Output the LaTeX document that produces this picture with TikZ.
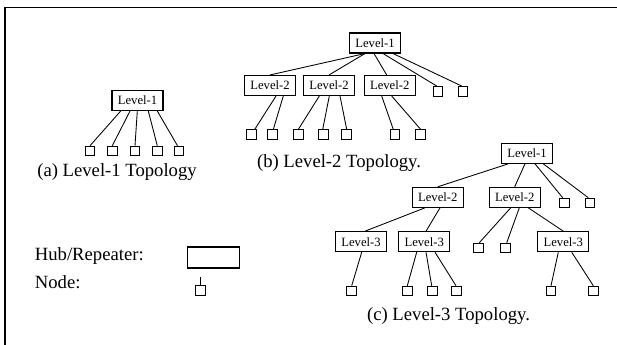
\documentclass[tikz,border=0pt]{standalone}
\usepackage{fontspec}
\setmainfont{Liberation Serif}
\usetikzlibrary{calc}
\tikzset{
  hub/.style={draw, line width=0.8pt, minimum width=38.25pt, minimum height=15pt, inner sep=0pt, font=\fontsize{9.5}{11}\selectfont},
  leaf/.style={draw, line width=0.7pt, minimum size=7.2pt, inner sep=0pt},
  link/.style={line width=0.65pt},
  caption/.style={font=\fontsize{14}{16}\selectfont, inner sep=0pt, anchor=base},
  legendtext/.style={font=\fontsize{14}{16}\selectfont, inner sep=0pt, anchor=base west}
}
\newcommand{\conn}[4]{\draw[link] ($(#1.south)+(#2,0)$) -- ($(#3.north)+(#4,0)$);}
\begin{document}
\begin{tikzpicture}[x=0.75pt, y=-0.75pt]
\useasboundingbox (0,0) rectangle (617,345);
% frame
\draw[line width=1pt] (5,345) -- (5,7.3) -- (617,7.3);

% ---------- (a) ----------
\node[hub] (a1) at (137.5,100.5) {Level-1};
\node[leaf] (al1) at (90,151) {};
\node[leaf] (al2) at (112.3,151) {};
\node[leaf] (al3) at (135,151) {};
\node[leaf] (al4) at (157.3,151) {};
\node[leaf] (al5) at (179,151) {};
\conn{a1}{-16.8}{al1}{0}
\conn{a1}{-7.5}{al2}{0}
\conn{a1}{-0.2}{al3}{0}
\conn{a1}{10.8}{al4}{0}
\conn{a1}{19.8}{al5}{-1.5}
\node[caption] (acap) at (117,177) {(a) Level-1 Topology};

% ---------- (b) ----------
\node[hub] (b1) at (375,43) {Level-1};
\node[hub] (b2a) at (270,85.5) {Level-2};
\node[hub] (b2b) at (329,85.5) {Level-2};
\node[hub] (b2c) at (389.7,85.5) {Level-2};
\node[leaf] (bl1) at (438,91.3) {};
\node[leaf] (bl2) at (463,91.3) {};
\conn{b1}{-10}{b2a}{0}
\conn{b1}{-10}{b2b}{0}
\conn{b1}{-1}{b2c}{-3}
\conn{b1}{8}{bl1}{-1.3}
\conn{b1}{18}{bl2}{-1.3}
\node[leaf] (bx1) at (251.7,134.7) {};
\node[leaf] (bx2) at (272.7,134.7) {};
\node[leaf] (bx3) at (298.3,134.7) {};
\node[leaf] (bx4) at (323.3,134.7) {};
\node[leaf] (bx5) at (346.7,134.7) {};
\node[leaf] (bx6) at (395,134.7) {};
\node[leaf] (bx7) at (420.7,134.7) {};
\conn{b2a}{6}{bx1}{3}
\conn{b2a}{13.3}{bx2}{0.6}
\conn{b2b}{-9.7}{bx3}{0}
\conn{b2b}{0.3}{bx4}{-0.6}
\conn{b2b}{11}{bx5}{0}
\conn{b2c}{-8}{bx6}{-1.7}
\conn{b2c}{2}{bx7}{0}
\node[caption] (bcap) at (339,168) {(b) Level-2 Topology.};

% ---------- (c) ----------
\node[hub] (c1) at (527,153.3) {Level-1};
\node[hub] (c2a) at (437.8,197.3) {Level-2};
\node[hub] (c2b) at (514.7,197.3) {Level-2};
\node[leaf] (cl1) at (564.7,203) {};
\node[leaf] (cl2) at (590,203) {};
\conn{c1}{-18.7}{c2a}{0}
\conn{c1}{-2}{c2b}{0}
\conn{c1}{8}{cl1}{-2}
\conn{c1}{16.3}{cl2}{-1.7}
\node[hub] (c3a) at (361,241.7) {Level-3};
\node[hub] (c3b) at (424.2,241.7) {Level-3};
\node[hub] (c3c) at (563.3,241.7) {Level-3};
\node[leaf] (cm1) at (478.7,248) {};
\node[leaf] (cm2) at (505.5,248) {};
\conn{c2a}{-12.8}{c3a}{4}
\conn{c2a}{2.2}{c3b}{1.8}
\conn{c2b}{-4}{cm1}{0.6}
\conn{c2b}{4.6}{cm2}{1.2}
\conn{c2b}{13.6}{c3c}{0}
\node[leaf] (cx1) at (351.7,291) {};
\node[leaf] (cx2) at (407.3,291) {};
\node[leaf] (cx3) at (432.3,291) {};
\node[leaf] (cx4) at (456.7,291) {};
\node[leaf] (cx5) at (551,291) {};
\node[leaf] (cx6) at (593.3,291) {};
\conn{c3a}{0.7}{cx1}{0}
\conn{c3b}{-7.5}{cx2}{0}
\conn{c3b}{1.8}{cx3}{-0.6}
\conn{c3b}{10.8}{cx4}{-0.7}
\conn{c3c}{-5}{cx5}{0}
\conn{c3c}{8.4}{cx6}{0}
\node[caption] (ccap) at (448.5,320) {(c) Level-3 Topology.};

% ---------- legend ----------
\node[legendtext] (hubtxt) at (34.6,260) {Hub/Repeater:};
\node[legendtext] (nodetxt) at (34.6,288) {Node:};
\node[hub, minimum width=39pt, minimum height=15.75pt] (lhub) at (213.4,257.5) {};
\node[leaf] (lleaf) at (200.7,290.5) {};
\coordinate (stub) at (200.7,277);
\draw[link] (stub) -- (lleaf.north);
\end{tikzpicture}
\end{document}
